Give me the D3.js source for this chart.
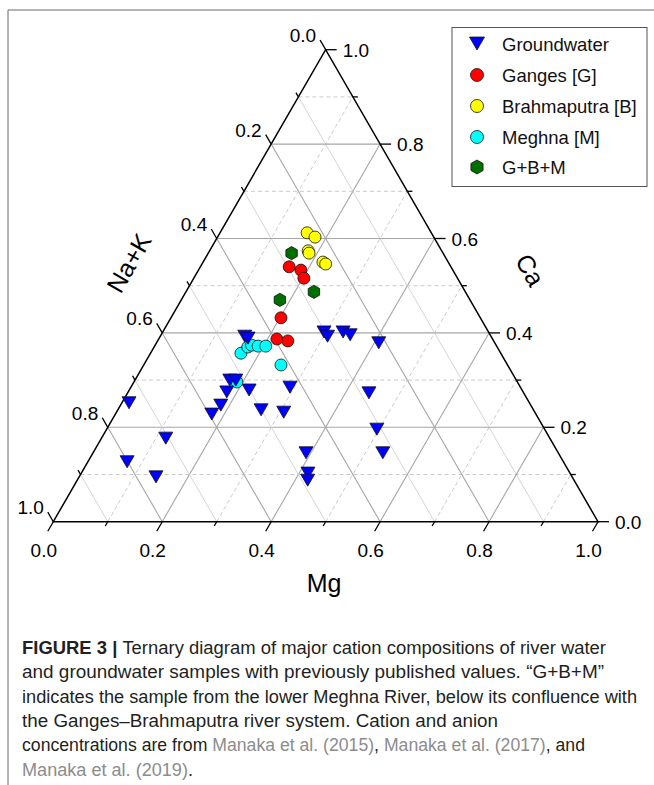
<!DOCTYPE html>
<html>
<head>
<meta charset="utf-8">
<script src="https://cdn.jsdelivr.net/npm/d3@7"></script>
<style>
  html, body { margin: 0; padding: 0; background: #fff; }
  svg { display: block; }
</style>
</head>
<body>
<svg id="chart" width="654" height="785"></svg>
<script>
// Cation compositions as [Mg, Ca, Na+K] fractions
const groundwater = [
  [0.013, 0.252, 0.735], [0.118, 0.177, 0.705], [0.072, 0.127, 0.801], [0.141, 0.095, 0.764],
  [0.177, 0.228, 0.595], [0.184, 0.247, 0.569], [0.181, 0.275, 0.544], [0.174, 0.300, 0.526],
  [0.185, 0.300, 0.515], [0.220, 0.279, 0.501], [0.263, 0.237, 0.500], [0.307, 0.232, 0.461],
  [0.292, 0.285, 0.423], [0.155, 0.393, 0.452], [0.163, 0.389, 0.448], [0.391, 0.146, 0.463],
  [0.416, 0.103, 0.481], [0.423, 0.088, 0.489], [0.296, 0.402, 0.302], [0.307, 0.393, 0.300],
  [0.331, 0.402, 0.267], [0.347, 0.396, 0.257], [0.408, 0.379, 0.213], [0.443, 0.273, 0.284],
  [0.496, 0.196, 0.308], [0.532, 0.146, 0.322]
];
const ganges = [
  [0.163, 0.540, 0.297], [0.188, 0.533, 0.279], [0.202, 0.516, 0.282],
  [0.202, 0.432, 0.366], [0.217, 0.387, 0.396], [0.239, 0.383, 0.378]
];
const brahmaputra = [
  [0.160, 0.612, 0.228], [0.179, 0.603, 0.218], [0.181, 0.574, 0.245],
  [0.185, 0.569, 0.246], [0.220, 0.550, 0.230], [0.227, 0.546, 0.227]
];
const meghna = [
  [0.166, 0.357, 0.477], [0.172, 0.370, 0.458], [0.177, 0.374, 0.449], [0.190, 0.372, 0.438],
  [0.204, 0.372, 0.424], [0.252, 0.332, 0.416], [0.189, 0.296, 0.515]
];
const confluence = [
  [0.153, 0.569, 0.278], [0.235, 0.487, 0.278], [0.181, 0.470, 0.349]
];

const seriesNames = ["Groundwater", "Ganges [G]", "Brahmaputra [B]", "Meghna [M]", "G+B+M"];
const tickValues = [0, 0.2, 0.4, 0.6, 0.8, 1.0];
const tickLabels = ["0.0", "0.2", "0.4", "0.6", "0.8", "1.0"];
const minorValues = [0.1, 0.3, 0.5, 0.7, 0.9];
const gridValues = [0.1, 0.2, 0.3, 0.4, 0.5, 0.6, 0.7, 0.8, 0.9];
const axisTitles = ["Mg", "Ca", "Na+K"];

const captionLines = [
  [["FIGURE 3 | ", "b"], ["Ternary diagram of major cation compositions of river water", "n"]],
  [["and groundwater samples with previously published values. \u201cG+B+M\u201d", "n"]],
  [["indicates the sample from the lower Meghna River, below its confluence with", "n"]],
  [["the Ganges\u2013Brahmaputra river system. Cation and anion", "n"]],
  [["concentrations are from ", "n"], ["Manaka et al. (2015)", "l"], [", ", "n"], ["Manaka et al. (2017)", "l"], [", and", "n"]],
  [["Manaka et al. (2019)", "l"], [".", "n"]]
];
const captionWidths = [584, 582, 615, 476, 563, 171];

const FONT = "'Liberation Sans', Arial, Helvetica, sans-serif";
const svg = d3.select("#chart");

// Page frame
svg.append("path").attr("d", "M8,785 L8,10 L654,10")
  .attr("fill", "none").attr("stroke", "#6b6b6b").attr("stroke-width", 1);

// Ternary projection: Mg along the base, Ca upwards
const x = d3.scaleLinear().domain([0, 1]).range([53.3, 598]);
const y = d3.scaleLinear().domain([0, 1]).range([521.7, 49.7]);
const proj = (mg, ca) => [x(mg + ca / 2), y(ca)];
const projComp = d => { const s = d[0] + d[1] + d[2]; return proj(d[0] / s, d[1] / s); };

const isMajor = v => Math.round(v * 10) % 2 === 0;
const gridG = svg.append("g");
const line = d3.line();

function gridLine(p1, p2, major, dashed) {
  gridG.append("path").attr("d", line([p1, p2]))
    .attr("fill", "none")
    .attr("stroke", major ? "#a6a6a6" : (dashed ? "#c4c4c4" : "#cfcfcf"))
    .attr("stroke-width", major ? 1.1 : 0.9)
    .attr("stroke-dasharray", (!major && dashed) ? "4,3" : null);
}
gridValues.forEach(v => {
  const major = isMajor(v);
  // constant Na+K
  gridLine(proj(0, 1 - v), proj(1 - v, 0), major, false);
  // constant Mg
  gridLine(proj(v, 0), proj(v, 1 - v), major, true);
  // constant Ca
  gridLine(proj(0, v), proj(1 - v, v), major, true);
});

// Triangle outline
const axG = svg.append("g");
axG.append("path").attr("d", line([proj(0, 0), proj(1, 0), proj(0, 1)]) + "Z")
  .attr("fill", "none").attr("stroke", "#000").attr("stroke-width", 1.5);

// Ticks
const s60 = Math.sqrt(3) / 2;
const tickDirs = {
  mg: [-0.5, s60],
  ca: [1, 0],
  nak: [-0.5, -s60]
};
const basePoint = {
  mg: v => proj(v, 0),
  ca: v => proj(1 - v, v),
  nak: v => proj(0, 1 - v)
};
function drawTicks(key, values, len) {
  values.forEach(v => {
    const p = basePoint[key](v), d = tickDirs[key];
    axG.append("path").attr("d", line([p, [p[0] + d[0] * len, p[1] + d[1] * len]]))
      .attr("stroke", "#000").attr("stroke-width", 1.3);
  });
}
["mg", "ca", "nak"].forEach(k => { drawTicks(k, tickValues, 11); drawTicks(k, minorValues, 5); });

// Tick labels
const labG = svg.append("g").attr("font-family", FONT).attr("font-size", 19).attr("fill", "#000");
tickValues.forEach((v, i) => {
  let p = basePoint.mg(v), d = tickDirs.mg;
  labG.append("text").attr("x", p[0] + d[0] * 11 - 4).attr("y", p[1] + d[1] * 11 + 26)
    .attr("text-anchor", "middle").text(tickLabels[i]);
  p = basePoint.ca(v);
  labG.append("text").attr("x", p[0] + 17).attr("y", p[1] + 7)
    .attr("text-anchor", "start").text(tickLabels[i]);
  p = basePoint.nak(v); d = tickDirs.nak;
  labG.append("text").attr("x", p[0] + d[0] * 11 - 4).attr("y", p[1] + d[1] * 11 + 2)
    .attr("text-anchor", "end").text(tickLabels[i]);
});

// Axis titles
const titleG = svg.append("g").attr("font-family", FONT).attr("font-size", 25).attr("fill", "#000")
  .attr("text-anchor", "middle");
titleG.append("text").attr("x", 324).attr("y", 592).text(axisTitles[0]);
titleG.append("text").attr("transform", "translate(530,270) rotate(60)").attr("dy", "0.35em").text(axisTitles[1]);
titleG.append("text").attr("transform", "translate(129,263) rotate(-60)").attr("dy", "0.35em").text(axisTitles[2]);

// Marker shapes
const triPath = w => `M${-w / 2},${-w * 0.43}L${w / 2},${-w * 0.43}L0,${w * 0.43}Z`;
const hexPath = r => d3.range(6).map(i => {
  const a = Math.PI / 3 * i - Math.PI / 2;
  return [r * Math.cos(a), r * Math.sin(a)];
});
const series = [
  { name: seriesNames[1], data: ganges, fill: "#ff0000", shape: "circle" },
  { name: seriesNames[2], data: brahmaputra, fill: "#ffff00", shape: "circle" },
  { name: seriesNames[3], data: meghna, fill: "#00ffff", shape: "circle" },
  { name: seriesNames[4], data: confluence, fill: "#006f00", shape: "hex" },
  { name: seriesNames[0], data: groundwater, fill: "#0000ff", shape: "tri" }
];
function marker(g, shape, fill, big) {
  let m;
  if (shape === "circle") m = g.append("circle").attr("r", big ? 6.5 : 6);
  else if (shape === "hex") m = g.append("path").attr("d", line(hexPath(big ? 7 : 6.6)) + "Z");
  else m = g.append("path").attr("d", triPath(big ? 15 : 14));
  m.attr("fill", fill).attr("stroke", "#111").attr("stroke-width", 0.8);
}
const ptsG = svg.append("g");
series.forEach(s => {
  s.data.forEach(d => {
    const p = projComp(d);
    const g = ptsG.append("g").attr("transform", `translate(${p[0]},${p[1]})`);
    marker(g, s.shape, s.fill, false);
  });
});

// Legend
const legG = svg.append("g");
legG.append("rect").attr("x", 452).attr("y", 27.5).attr("width", 195).attr("height", 159)
  .attr("fill", "#fff").attr("stroke", "#555").attr("stroke-width", 1);
const legendOrder = [4, 0, 1, 2, 3];
const legendRows = [43.5, 75, 106, 137, 167];
legendOrder.forEach((si, i) => {
  const s = series[si];
  const g = legG.append("g").attr("transform", `translate(477,${legendRows[i]})`);
  marker(g, s.shape, s.fill, true);
  legG.append("text").attr("x", 502).attr("y", legendRows[i] + 7)
    .attr("font-family", FONT).attr("font-size", 18.5).attr("fill", "#111").text(s.name);
});

// Caption
const capG = svg.append("g").attr("font-family", FONT).attr("font-size", 17.5);
captionLines.forEach((parts, i) => {
  const t = capG.append("text").attr("x", 22).attr("y", 654 + i * 24.3)
    .attr("textLength", captionWidths[i]).attr("lengthAdjust", "spacingAndGlyphs");
  parts.forEach(([txt, kind]) => {
    t.append("tspan").text(txt)
      .attr("font-weight", kind === "b" ? "bold" : null)
      .attr("fill", kind === "l" ? "#8c8c8c" : "#231f20");
  });
});
</script>
</body>
</html>
